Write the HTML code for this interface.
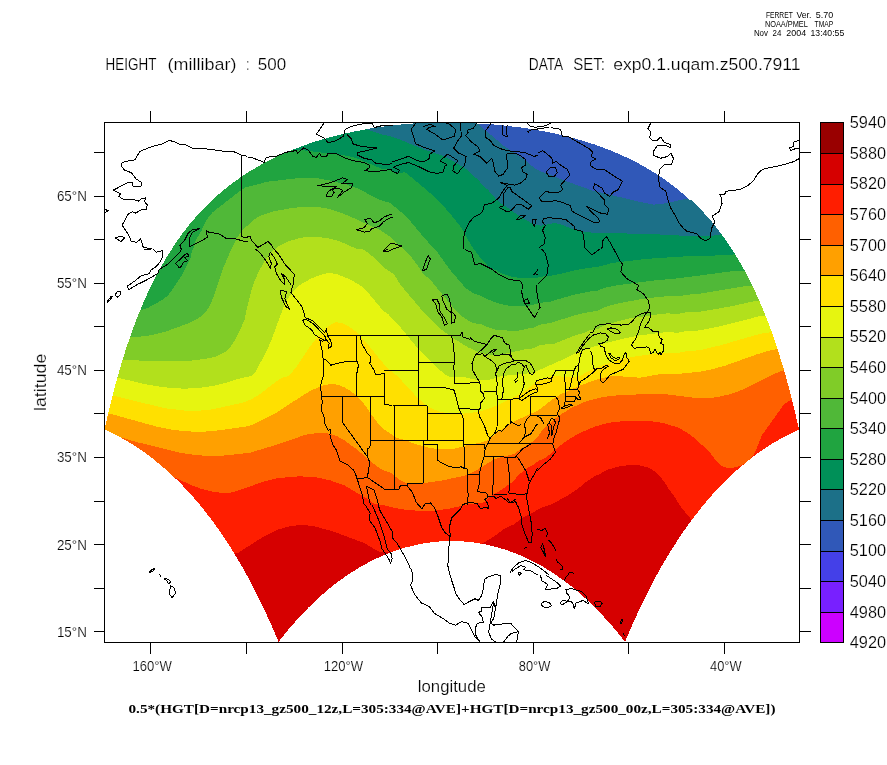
<!DOCTYPE html>
<html><head><meta charset="utf-8"><title>FERRET plot</title>
<style>
html,body{margin:0;padding:0;background:#fff;}
body{width:887px;height:765px;overflow:hidden;}
svg{display:block;}
text{font-family:"Liberation Sans",sans-serif;fill:#000;}
.ser{font-family:"Liberation Serif",serif;font-weight:bold;}
</style></head><body>
<svg width="887" height="765" viewBox="0 0 887 765">
<rect width="887" height="765" fill="#fff"/>
<defs><clipPath id="dr"><path shape-rendering="crispEdges" d="M104.5 429.4 L106.6 420.4 L108.7 411.2 L110.9 402.1 L113.2 392.8 L115.7 383.5 L118.3 374.2 L121.0 364.9 L123.9 355.5 L126.9 346.0 L130.1 336.6 L133.5 327.1 L137.1 317.6 L141.0 308.1 L145.1 298.6 L149.4 289.2 L154.1 279.7 L159.0 270.3 L164.3 260.9 L170.0 251.6 L176.2 242.3 L182.7 233.2 L189.8 224.1 L197.5 215.2 L205.8 206.4 L214.7 197.8 L224.5 189.4 L235.0 181.3 L246.4 173.5 L258.8 166.0 L272.2 158.9 L286.6 152.2 L302.3 146.0 L319.0 140.4 L337.0 135.4 L356.0 131.1 L376.1 127.6 L397.0 124.9 L418.6 123.1 L440.7 122.2 L462.8 122.2 L484.9 123.1 L506.5 124.9 L527.4 127.6 L547.5 131.1 L566.5 135.4 L584.5 140.4 L601.2 146.0 L616.9 152.2 L631.4 158.9 L644.7 166.0 L657.1 173.5 L668.5 181.3 L679.1 189.4 L688.8 197.8 L697.7 206.4 L706.0 215.2 L713.7 224.1 L720.8 233.2 L727.4 242.3 L733.5 251.6 L739.2 260.9 L744.5 270.3 L749.5 279.7 L754.1 289.2 L758.4 298.6 L762.5 308.1 L766.4 317.6 L770.0 327.1 L773.4 336.6 L776.6 346.0 L779.6 355.5 L782.5 364.9 L785.2 374.2 L787.8 383.5 L790.3 392.8 L792.6 402.1 L794.8 411.2 L797.0 420.4 L799.0 429.4 L799.0 429.4 L795.7 430.9 L792.4 432.5 L789.1 434.1 L785.9 435.8 L782.7 437.5 L779.5 439.3 L776.4 441.1 L773.3 443.0 L770.2 444.9 L767.1 446.9 L764.1 448.9 L761.1 451.0 L758.1 453.1 L755.2 455.2 L752.3 457.4 L749.4 459.7 L746.6 461.9 L743.8 464.2 L741.0 466.6 L738.2 469.0 L735.5 471.4 L732.8 473.8 L730.2 476.3 L727.6 478.8 L725.0 481.4 L722.4 483.9 L719.9 486.5 L717.4 489.2 L714.9 491.8 L712.5 494.5 L710.1 497.2 L707.7 500.0 L705.4 502.7 L703.1 505.5 L700.8 508.3 L698.5 511.1 L696.3 514.0 L694.1 516.8 L691.9 519.7 L689.8 522.6 L687.7 525.5 L685.6 528.4 L683.5 531.4 L681.5 534.3 L679.5 537.3 L677.5 540.3 L675.6 543.3 L673.6 546.3 L671.7 549.3 L669.9 552.3 L668.0 555.4 L666.2 558.4 L664.4 561.5 L662.6 564.5 L660.8 567.6 L659.1 570.7 L657.4 573.7 L655.7 576.8 L654.1 579.9 L652.4 583.0 L650.8 586.1 L649.2 589.2 L647.6 592.3 L646.1 595.4 L644.5 598.5 L643.0 601.6 L641.5 604.7 L640.0 607.8 L638.6 610.9 L637.1 614.0 L635.7 617.1 L634.3 620.2 L632.9 623.3 L631.6 626.4 L630.2 629.5 L628.9 632.6 L627.6 635.7 L626.3 638.7 L625.0 641.8 L625.0 641.8 L621.6 637.6 L618.2 633.3 L614.8 629.2 L611.3 625.0 L607.7 621.0 L604.1 617.0 L600.4 613.0 L596.6 609.1 L592.8 605.3 L588.9 601.6 L585.0 597.9 L581.0 594.4 L576.9 590.9 L572.8 587.5 L568.6 584.1 L564.4 580.9 L560.1 577.8 L555.7 574.8 L551.3 571.9 L546.8 569.1 L542.3 566.4 L537.7 563.8 L533.1 561.4 L528.4 559.1 L523.7 556.9 L519.0 554.8 L514.2 552.9 L509.3 551.1 L504.5 549.4 L499.5 547.9 L494.6 546.6 L489.6 545.3 L484.6 544.3 L479.6 543.3 L474.6 542.6 L469.5 542.0 L464.4 541.5 L459.4 541.2 L454.3 541.0 L449.2 541.0 L444.1 541.2 L439.1 541.5 L434.0 542.0 L428.9 542.6 L423.9 543.3 L418.9 544.3 L413.9 545.3 L408.9 546.6 L404.0 547.9 L399.1 549.4 L394.2 551.1 L389.3 552.9 L384.5 554.8 L379.8 556.9 L375.1 559.1 L370.4 561.4 L365.8 563.8 L361.2 566.4 L356.7 569.1 L352.2 571.9 L347.8 574.8 L343.4 577.8 L339.1 580.9 L334.9 584.1 L330.7 587.5 L326.6 590.9 L322.5 594.4 L318.5 597.9 L314.6 601.6 L310.7 605.3 L306.9 609.1 L303.1 613.0 L299.4 617.0 L295.8 621.0 L292.2 625.0 L288.7 629.2 L285.3 633.3 L281.9 637.6 L278.5 641.8 L278.5 641.8 L277.3 638.7 L276.0 635.7 L274.6 632.6 L273.3 629.5 L272.0 626.4 L270.6 623.3 L269.2 620.2 L267.8 617.1 L266.4 614.0 L264.9 610.9 L263.5 607.8 L262.0 604.7 L260.5 601.6 L259.0 598.5 L257.5 595.4 L255.9 592.3 L254.3 589.2 L252.7 586.1 L251.1 583.0 L249.5 579.9 L247.8 576.8 L246.1 573.7 L244.4 570.7 L242.7 567.6 L240.9 564.5 L239.1 561.5 L237.3 558.4 L235.5 555.4 L233.7 552.3 L231.8 549.3 L229.9 546.3 L227.9 543.3 L226.0 540.3 L224.0 537.3 L222.0 534.3 L220.0 531.4 L217.9 528.4 L215.8 525.5 L213.7 522.6 L211.6 519.7 L209.4 516.8 L207.2 514.0 L205.0 511.1 L202.7 508.3 L200.5 505.5 L198.1 502.7 L195.8 500.0 L193.4 497.2 L191.0 494.5 L188.6 491.8 L186.1 489.2 L183.6 486.5 L181.1 483.9 L178.5 481.4 L175.9 478.8 L173.3 476.3 L170.7 473.8 L168.0 471.4 L165.3 469.0 L162.5 466.6 L159.7 464.2 L156.9 461.9 L154.1 459.7 L151.2 457.4 L148.3 455.2 L145.4 453.1 L142.4 451.0 L139.4 448.9 L136.4 446.9 L133.3 444.9 L130.2 443.0 L127.1 441.1 L124.0 439.3 L120.8 437.5 L117.6 435.8 L114.4 434.1 L111.1 432.5 L107.8 430.9 L104.5 429.4Z"/></clipPath><clipPath id="fr"><rect x="104.5" y="122.4" width="695.0" height="520.1"/></clipPath></defs>
<g clip-path="url(#fr)"><g shape-rendering="crispEdges">
<path d="M105.5 429.0 117.9 435.1 117.9 435.1 130.5 442.2 130.5 442.3 142.6 450.2 142.7 450.2 148.5 454.4 148.5 454.4 155.7 459.9 155.7 459.9 168.1 470.4 168.2 470.5 180.0 481.6 180.0 481.7 191.1 493.4 191.2 493.5 201.7 505.8 201.7 505.8 212.8 519.9 212.8 520.0 223.1 534.5 223.1 534.5 232.8 549.4 232.8 549.5 242.7 566.1 242.8 566.1 252.0 583.0 252.0 583.0 261.3 601.5 261.4 601.5 270.7 621.5 270.7 621.6 278.7 640.3 288.0 628.7 288.0 628.7 296.9 618.6 296.9 618.6 308.0 606.9 308.0 606.9 317.7 597.6 317.7 597.6 327.8 588.8 327.8 588.8 338.2 580.6 338.3 580.6 349.0 573.0 349.1 573.0 360.2 566.1 360.2 566.0 371.6 559.8 371.7 559.8 383.4 554.4 383.5 554.4 395.5 549.8 395.5 549.8 405.2 546.7 405.3 546.7 417.7 543.7 417.7 543.7 427.7 541.9 427.7 541.9 440.3 540.6 440.4 540.6 450.5 540.2 450.5 540.2 460.6 540.4 460.7 540.4 473.2 541.6 473.3 541.6 485.8 543.7 485.9 543.7 498.2 546.7 498.3 546.7 508.0 549.8 508.1 549.8 520.0 554.4 520.1 554.4 531.8 559.8 531.9 559.8 543.3 566.0 543.3 566.1 554.4 573.0 554.5 573.0 565.3 580.6 565.3 580.6 575.7 588.8 575.7 588.8 585.8 597.6 585.8 597.6 595.5 606.9 595.5 606.9 606.6 618.6 606.6 618.6 615.5 628.7 615.5 628.7 624.8 640.3 632.8 621.6 632.8 621.5 642.2 601.5 642.2 601.5 651.5 583.0 651.5 583.0 660.7 566.1 660.8 566.1 670.7 549.5 670.7 549.4 680.4 534.5 680.4 534.5 690.7 520.0 690.7 519.9 701.8 505.8 701.8 505.8 712.3 493.5 712.4 493.4 723.5 481.7 723.6 481.6 735.3 470.5 735.4 470.4 747.8 459.9 747.8 459.9 755.0 454.4 755.0 454.4 760.8 450.2 760.9 450.2 773.0 442.3 773.0 442.2 785.6 435.1 785.6 435.1 798.1 429.0 793.0 407.0 788.4 388.7 783.2 370.2 777.5 351.5 771.2 332.7 765.9 318.6 758.1 299.8 751.5 285.7 744.3 271.7 736.4 257.7 727.5 243.9 721.0 234.8 714.1 225.8 710.4 221.4 702.6 212.6 694.1 204.0 685.0 195.5 675.1 187.3 664.4 179.4 652.8 171.7 640.3 164.4 626.7 157.5 612.0 151.0 596.1 145.0 587.8 142.3 570.2 137.2 551.6 132.8 531.9 129.1 521.7 127.6 500.7 125.1 490.0 124.2 468.2 123.1 457.3 122.9 446.3 122.9 424.3 123.5 402.8 125.1 381.8 127.6 371.6 129.1 351.9 132.8 333.3 137.2 315.7 142.3 307.4 145.0 291.5 151.0 276.8 157.5 263.2 164.4 250.7 171.7 239.1 179.4 228.4 187.3 218.5 195.5 209.4 204.0 200.9 212.6 193.1 221.4 189.5 225.8 182.5 234.8 176.0 243.9 167.2 257.7 159.2 271.7 152.0 285.7 145.4 299.8 137.6 318.6 132.3 332.7 126.0 351.5 120.3 370.2 115.1 388.7 110.5 407.0Z" fill="#3058b8"/>
<path fill-rule="evenodd" d="M686.0 198.8 662.1 204.0 654.0 204.6 642.0 202.4 592.0 190.4 568.0 181.9 538.0 170.2 534.5 168.0 524.8 160.0 504.1 146.0 476.4 122.7 468.3 122.3 457.3 122.1 446.2 122.1 424.3 122.7 402.7 124.3 381.7 126.8 371.5 128.3 351.8 132.0 333.1 136.4 315.5 141.5 307.1 144.3 291.2 150.3 276.5 156.8 262.9 163.7 250.2 171.0 238.6 178.7 227.9 186.7 218.0 194.9 208.8 203.4 200.3 212.1 192.5 220.9 188.8 225.3 181.8 234.4 175.4 243.5 166.5 257.3 158.5 271.3 151.2 285.4 144.7 299.5 136.9 318.3 131.6 332.5 125.2 351.3 119.5 369.9 114.4 388.5 109.7 406.8 104.5 429.4 117.5 435.8 130.1 442.9 142.2 450.8 148.1 455.0 155.2 460.6 167.6 471.0 179.4 482.2 190.6 494.0 201.1 506.3 212.1 520.4 222.5 535.0 232.1 549.9 242.1 566.5 251.3 583.4 260.6 601.8 270.0 621.9 278.5 641.8 288.7 629.2 297.5 619.1 308.6 607.4 318.3 598.2 328.3 589.4 338.7 581.2 349.5 573.7 360.6 566.7 372.0 560.6 383.8 555.1 395.7 550.5 405.5 547.5 417.8 544.5 427.8 542.7 440.4 541.4 450.5 541.0 460.6 541.2 473.2 542.4 485.7 544.5 498.0 547.5 507.8 550.5 519.8 555.1 531.5 560.6 542.9 566.7 554.0 573.7 564.8 581.2 575.2 589.4 585.2 598.2 594.9 607.4 606.0 619.1 614.9 629.2 625.0 641.8 633.6 621.9 642.9 601.8 652.2 583.4 661.4 566.5 671.4 549.9 681.0 535.0 691.4 520.4 702.4 506.3 712.9 494.0 724.1 482.2 735.9 471.0 748.3 460.6 755.4 455.0 761.3 450.8 773.4 442.9 786.0 435.8 799.0 429.4 793.8 406.8 789.1 388.5 784.0 369.9 778.3 351.3 771.9 332.5 766.6 318.3 758.8 299.5 752.3 285.4 745.0 271.3 737.0 257.3 728.1 243.5 721.7 234.4 714.7 225.3 711.0 220.9 703.2 212.1 694.7 203.4 691.1 200.1Z" fill="#1c7088"/>
<path fill-rule="evenodd" d="M710.0 236.1 700.0 235.7 690.0 236.1 654.0 234.2 592.0 232.6 582.0 231.6 576.0 230.4 562.0 224.9 556.0 223.3 552.0 223.5 542.0 225.6 538.0 225.4 532.0 223.3 524.0 219.1 499.3 202.0 496.0 199.2 488.2 190.0 483.6 186.0 478.2 180.0 466.0 168.9 450.0 159.4 440.0 154.7 424.0 149.5 398.0 138.8 390.0 136.3 380.0 134.0 366.5 129.3 351.8 132.0 333.1 136.4 315.5 141.5 307.1 144.3 291.2 150.3 276.5 156.8 262.9 163.7 250.2 171.0 238.6 178.7 227.9 186.7 218.0 194.9 208.8 203.4 200.3 212.1 192.5 220.9 188.8 225.3 181.8 234.4 175.4 243.5 166.5 257.3 158.5 271.3 151.2 285.4 144.7 299.5 136.9 318.3 131.6 332.5 125.2 351.3 119.5 369.9 114.4 388.5 109.7 406.8 104.5 429.4 117.5 435.8 130.1 442.9 142.2 450.8 148.1 455.0 155.2 460.6 167.6 471.0 179.4 482.2 190.6 494.0 201.1 506.3 212.1 520.4 222.5 535.0 232.1 549.9 242.1 566.5 251.3 583.4 260.6 601.8 270.0 621.9 278.5 641.8 288.7 629.2 297.5 619.1 308.6 607.4 318.3 598.2 328.3 589.4 338.7 581.2 349.5 573.7 360.6 566.7 372.0 560.6 383.8 555.1 395.7 550.5 405.5 547.5 417.8 544.5 427.8 542.7 440.4 541.4 450.5 541.0 460.6 541.2 473.2 542.4 485.7 544.5 498.0 547.5 507.8 550.5 519.8 555.1 531.5 560.6 542.9 566.7 554.0 573.7 564.8 581.2 575.2 589.4 585.2 598.2 594.9 607.4 606.0 619.1 614.9 629.2 625.0 641.8 633.6 621.9 642.9 601.8 652.2 583.4 661.4 566.5 671.4 549.9 681.0 535.0 691.4 520.4 702.4 506.3 712.9 494.0 724.1 482.2 735.9 471.0 748.3 460.6 755.4 455.0 761.3 450.8 773.4 442.9 786.0 435.8 799.0 429.4 793.8 406.8 789.1 388.5 784.0 369.9 778.3 351.3 771.9 332.5 766.6 318.3 758.8 299.5 752.3 285.4 745.0 271.3 737.0 257.3 728.1 243.5 721.7 234.4 721.6 234.3Z" fill="#009058"/>
<path fill-rule="evenodd" d="M706.0 256.0 686.0 255.9 678.0 257.3 662.0 257.6 642.0 259.4 612.0 263.0 600.0 266.4 580.0 269.2 554.0 275.3 540.0 276.9 536.0 278.1 520.0 277.9 514.0 277.1 510.0 276.3 500.0 272.6 496.0 270.1 490.0 267.8 488.0 266.3 486.5 264.0 480.0 257.3 474.4 250.0 468.0 240.1 465.2 234.0 460.0 226.0 448.0 211.1 438.0 200.5 428.0 191.1 406.0 172.9 404.0 172.3 396.0 173.5 390.0 170.0 382.0 168.8 356.0 158.0 346.0 155.6 298.0 149.6 293.3 149.5 291.2 150.3 276.5 156.8 262.9 163.7 250.2 171.0 238.6 178.7 227.9 186.7 218.0 194.9 208.8 203.4 200.3 212.1 192.5 220.9 188.8 225.3 181.8 234.4 175.4 243.5 166.5 257.3 158.5 271.3 151.2 285.4 144.7 299.5 136.9 318.3 131.6 332.5 125.2 351.3 119.5 369.9 114.4 388.5 109.7 406.8 104.5 429.4 117.5 435.8 130.1 442.9 142.2 450.8 148.1 455.0 155.2 460.6 167.6 471.0 179.4 482.2 190.6 494.0 201.1 506.3 212.1 520.4 222.5 535.0 232.1 549.9 242.1 566.5 251.3 583.4 260.6 601.8 270.0 621.9 278.5 641.8 288.7 629.2 297.5 619.1 308.6 607.4 318.3 598.2 328.3 589.4 338.7 581.2 349.5 573.7 360.6 566.7 372.0 560.6 383.8 555.1 395.7 550.5 405.5 547.5 417.8 544.5 427.8 542.7 440.4 541.4 450.5 541.0 460.6 541.2 473.2 542.4 485.7 544.5 498.0 547.5 507.8 550.5 519.8 555.1 531.5 560.6 542.9 566.7 554.0 573.7 564.8 581.2 575.2 589.4 585.2 598.2 594.9 607.4 606.0 619.1 614.9 629.2 625.0 641.8 633.6 621.9 642.9 601.8 652.2 583.4 661.4 566.5 671.4 549.9 681.0 535.0 691.4 520.4 702.4 506.3 712.9 494.0 724.1 482.2 735.9 471.0 748.3 460.6 755.4 455.0 761.3 450.8 773.4 442.9 786.0 435.8 799.0 429.4 793.8 406.8 789.1 388.5 784.0 369.9 778.3 351.3 771.9 332.5 766.6 318.3 758.8 299.5 752.3 285.4 745.0 271.3 737.0 257.3 735.2 254.4Z" fill="#20a440"/>
<path fill-rule="evenodd" d="M268.0 181.6 246.0 187.2 242.0 189.4 212.9 212.0 206.5 220.0 201.8 230.0 195.9 240.0 194.0 246.6 192.0 250.6 190.6 258.0 182.6 274.0 170.8 292.0 167.3 296.0 162.0 300.0 148.0 307.9 142.0 309.7 140.4 309.8 136.9 318.3 131.6 332.5 125.2 351.3 119.5 369.9 114.4 388.5 109.7 406.8 104.5 429.4 117.5 435.8 130.1 442.9 142.2 450.8 148.1 455.0 155.2 460.6 167.6 471.0 179.4 482.2 190.6 494.0 201.1 506.3 212.1 520.4 222.5 535.0 232.1 549.9 242.1 566.5 251.3 583.4 260.6 601.8 270.0 621.9 278.5 641.8 288.7 629.2 297.5 619.1 308.6 607.4 318.3 598.2 328.3 589.4 338.7 581.2 349.5 573.7 360.6 566.7 372.0 560.6 383.8 555.1 395.7 550.5 405.5 547.5 417.8 544.5 427.8 542.7 440.4 541.4 450.5 541.0 460.6 541.2 473.2 542.4 485.7 544.5 498.0 547.5 507.8 550.5 519.8 555.1 531.5 560.6 542.9 566.7 554.0 573.7 564.8 581.2 575.2 589.4 585.2 598.2 594.9 607.4 606.0 619.1 614.9 629.2 625.0 641.8 633.6 621.9 642.9 601.8 652.2 583.4 661.4 566.5 671.4 549.9 681.0 535.0 691.4 520.4 702.4 506.3 712.9 494.0 724.1 482.2 735.9 471.0 748.3 460.6 755.4 455.0 761.3 450.8 773.4 442.9 786.0 435.8 799.0 429.4 793.8 406.8 789.1 388.5 784.0 369.9 778.3 351.3 771.9 332.5 766.6 318.3 758.8 299.5 752.3 285.4 745.0 271.3 744.7 270.8 730.0 271.5 680.0 278.1 650.0 280.9 616.0 285.5 604.0 288.0 596.0 291.2 588.0 291.6 582.0 293.2 574.0 294.6 550.0 301.7 542.0 302.6 528.0 305.9 512.0 306.4 500.0 304.0 488.0 299.5 480.0 295.3 474.0 293.7 468.0 289.9 463.8 286.0 450.1 270.0 436.0 250.3 426.1 240.0 406.0 216.1 390.0 202.9 378.0 199.3 360.0 189.4 346.0 184.3 330.0 180.5 318.0 178.4 310.0 177.8 299.7 178.0Z" fill="#50b838"/>
<path fill-rule="evenodd" d="M274.0 211.3 260.0 216.0 253.1 220.0 249.4 224.0 244.0 228.4 236.7 238.0 229.2 254.0 222.4 270.0 213.8 296.0 210.0 305.2 205.7 312.0 202.0 315.7 198.0 318.6 190.0 322.6 168.0 330.8 156.0 334.2 146.0 336.1 134.0 337.1 130.0 337.1 125.2 351.3 119.5 369.9 114.4 388.5 109.7 406.8 104.5 429.4 117.5 435.8 130.1 442.9 142.2 450.8 148.1 455.0 155.2 460.6 167.6 471.0 179.4 482.2 190.6 494.0 201.1 506.3 212.1 520.4 222.5 535.0 232.1 549.9 242.1 566.5 251.3 583.4 260.6 601.8 270.0 621.9 278.5 641.8 288.7 629.2 297.5 619.1 308.6 607.4 318.3 598.2 328.3 589.4 338.7 581.2 349.5 573.7 360.6 566.7 372.0 560.6 383.8 555.1 395.7 550.5 405.5 547.5 417.8 544.5 427.8 542.7 440.4 541.4 450.5 541.0 460.6 541.2 473.2 542.4 485.7 544.5 498.0 547.5 507.8 550.5 519.8 555.1 531.5 560.6 542.9 566.7 554.0 573.7 564.8 581.2 575.2 589.4 585.2 598.2 594.9 607.4 606.0 619.1 614.9 629.2 625.0 641.8 633.6 621.9 642.9 601.8 652.2 583.4 661.4 566.5 671.4 549.9 681.0 535.0 691.4 520.4 702.4 506.3 712.9 494.0 724.1 482.2 735.9 471.0 748.3 460.6 755.4 455.0 761.3 450.8 773.4 442.9 786.0 435.8 799.0 429.4 793.8 406.8 789.1 388.5 784.0 369.9 778.3 351.3 771.9 332.5 766.6 318.3 758.8 299.5 752.3 285.5 744.0 286.4 700.0 293.6 686.0 294.9 680.0 296.0 668.0 296.1 658.0 297.0 642.0 299.0 622.0 302.6 608.0 306.0 602.6 308.0 598.0 310.6 586.0 312.6 574.0 315.6 550.0 323.0 540.0 324.7 534.0 327.5 526.0 328.9 522.0 330.3 514.0 330.9 502.0 330.2 498.0 330.5 486.0 326.6 480.0 323.5 476.0 323.5 472.0 322.4 466.0 319.2 462.0 316.2 453.7 308.0 432.0 281.9 422.0 272.1 418.0 265.8 409.0 254.0 389.0 236.0 380.3 230.0 346.0 214.7 330.0 209.2 322.0 207.6 312.0 206.8 302.0 207.0 291.5 208.0Z" fill="#80cc28"/>
<path fill-rule="evenodd" d="M288.0 241.4 278.9 246.0 272.0 251.3 266.0 258.9 259.5 270.0 254.0 282.3 250.9 292.0 246.4 310.0 244.5 320.0 239.2 332.0 235.1 340.0 231.0 346.0 226.0 351.2 222.0 353.8 216.0 356.5 208.0 358.4 192.0 360.5 180.0 361.1 154.0 361.0 124.0 360.0 122.6 359.7 119.5 369.9 114.4 388.5 109.7 406.8 104.5 429.4 117.5 435.8 130.1 442.9 142.2 450.8 148.1 455.0 155.2 460.6 167.6 471.0 179.4 482.2 190.6 494.0 201.1 506.3 212.1 520.4 222.5 535.0 232.1 549.9 242.1 566.5 251.3 583.4 260.6 601.8 270.0 621.9 278.5 641.8 288.7 629.2 297.5 619.1 308.6 607.4 318.3 598.2 328.3 589.4 338.7 581.2 349.5 573.7 360.6 566.7 372.0 560.6 383.8 555.1 395.7 550.5 405.5 547.5 417.8 544.5 427.8 542.7 440.4 541.4 450.5 541.0 460.6 541.2 473.2 542.4 485.7 544.5 498.0 547.5 507.8 550.5 519.8 555.1 531.5 560.6 542.9 566.7 554.0 573.7 564.8 581.2 575.2 589.4 585.2 598.2 594.9 607.4 606.0 619.1 614.9 629.2 625.0 641.8 633.6 621.9 642.9 601.8 652.2 583.4 661.4 566.5 671.4 549.9 681.0 535.0 691.4 520.4 702.4 506.3 712.9 494.0 724.1 482.2 735.9 471.0 748.3 460.6 755.4 455.0 761.3 450.8 773.4 442.9 786.0 435.8 799.0 429.4 793.8 406.8 789.1 388.5 784.0 369.9 778.3 351.3 771.9 332.5 766.6 318.3 759.3 300.6 750.0 302.0 732.0 306.2 700.0 311.7 694.0 312.3 686.0 312.3 678.0 314.0 668.0 313.4 662.0 313.8 628.0 318.6 608.3 324.0 602.8 326.0 598.0 328.8 588.0 330.8 584.0 332.8 572.0 336.5 554.0 343.8 542.0 344.7 540.0 345.1 534.0 348.2 524.0 349.5 502.0 354.4 496.0 355.0 490.0 354.8 480.0 352.6 468.0 347.4 452.0 337.4 440.0 328.4 420.0 308.0 399.8 284.0 394.0 274.1 386.0 269.1 374.0 257.6 366.0 251.1 362.0 249.1 356.0 248.5 340.0 241.4 328.0 238.1 314.0 236.8 306.0 237.1 299.7 238.0Z" fill="#b2e01c"/>
<path fill-rule="evenodd" d="M312.3 278.0 302.0 283.5 296.0 288.2 290.0 295.1 286.0 301.8 283.2 308.0 271.4 340.0 267.2 350.0 256.0 370.9 254.0 374.0 251.6 376.0 240.0 378.4 226.0 382.8 212.0 386.1 198.0 388.1 184.0 388.7 170.0 387.9 156.0 386.1 144.0 383.9 118.0 377.8 117.4 377.7 114.4 388.5 109.7 406.8 104.5 429.4 117.5 435.8 130.1 442.9 142.2 450.8 148.1 455.0 155.2 460.6 167.6 471.0 179.4 482.2 190.6 494.0 201.1 506.3 212.1 520.4 222.5 535.0 232.1 549.9 242.1 566.5 251.3 583.4 260.6 601.8 270.0 621.9 278.5 641.8 288.7 629.2 297.5 619.1 308.6 607.4 318.3 598.2 328.3 589.4 338.7 581.2 349.5 573.7 360.6 566.7 372.0 560.6 383.8 555.1 395.7 550.5 405.5 547.5 417.8 544.5 427.8 542.7 440.4 541.4 450.5 541.0 460.6 541.2 473.2 542.4 485.7 544.5 498.0 547.5 507.8 550.5 519.8 555.1 531.5 560.6 542.9 566.7 554.0 573.7 564.8 581.2 575.2 589.4 585.2 598.2 594.9 607.4 606.0 619.1 614.9 629.2 625.0 641.8 633.6 621.9 642.9 601.8 652.2 583.4 661.4 566.5 671.4 549.9 681.0 535.0 691.4 520.4 702.4 506.3 712.9 494.0 724.1 482.2 735.9 471.0 748.3 460.6 755.4 455.0 761.3 450.8 773.4 442.9 786.0 435.8 799.0 429.4 793.8 406.8 789.1 388.5 784.0 369.9 778.3 351.3 771.9 332.5 766.6 318.3 765.5 315.5 760.0 316.1 722.0 325.8 700.0 330.3 694.0 331.0 686.0 331.0 678.0 332.8 670.0 332.2 664.0 332.4 640.0 335.4 624.0 338.4 602.0 344.1 588.0 348.5 574.0 353.9 568.0 357.2 534.0 372.4 526.0 373.7 502.0 376.0 490.0 379.6 480.0 380.2 474.0 379.4 462.0 376.6 452.0 377.4 450.0 377.0 446.0 374.9 436.0 367.0 420.0 351.0 398.0 324.4 392.0 318.6 388.3 314.0 384.0 311.3 382.0 309.3 369.1 294.0 361.1 286.0 351.5 280.0 338.0 274.5 330.0 272.9 323.0 274.0Z" fill="#e6f510"/>
<path fill-rule="evenodd" d="M324.0 330.0 316.0 338.7 310.0 346.6 297.1 366.0 290.0 374.7 288.0 376.2 284.0 377.1 278.0 380.2 258.0 395.5 252.0 398.9 244.0 402.4 210.0 409.8 198.0 410.7 184.0 410.5 164.0 408.1 116.0 396.2 112.6 395.6 109.7 406.8 104.5 429.4 117.5 435.8 130.1 442.9 142.2 450.8 148.1 455.0 155.2 460.6 167.6 471.0 179.4 482.2 190.6 494.0 201.1 506.3 212.1 520.4 222.5 535.0 232.1 549.9 242.1 566.5 251.3 583.4 260.6 601.8 270.0 621.9 278.5 641.8 288.7 629.2 297.5 619.1 308.6 607.4 318.3 598.2 328.3 589.4 338.7 581.2 349.5 573.7 360.6 566.7 372.0 560.6 383.8 555.1 395.7 550.5 405.5 547.5 417.8 544.5 427.8 542.7 440.4 541.4 450.5 541.0 460.6 541.2 473.2 542.4 485.7 544.5 498.0 547.5 507.8 550.5 519.8 555.1 531.5 560.6 542.9 566.7 554.0 573.7 564.8 581.2 575.2 589.4 585.2 598.2 594.9 607.4 606.0 619.1 614.9 629.2 625.0 641.8 633.6 621.9 642.9 601.8 652.2 583.4 661.4 566.5 671.4 549.9 681.0 535.0 691.4 520.4 702.4 506.3 712.9 494.0 724.1 482.2 735.9 471.0 748.3 460.6 755.4 455.0 761.3 450.8 773.4 442.9 786.0 435.8 799.0 429.4 793.8 406.8 789.1 388.5 784.0 369.9 778.3 351.3 771.9 332.5 771.8 332.1 760.0 333.8 720.0 345.4 700.0 350.1 686.0 351.4 678.0 353.0 666.0 352.6 658.0 353.2 638.0 356.0 622.0 359.1 604.0 364.6 592.0 369.5 579.8 376.0 576.0 377.3 570.0 377.3 556.0 376.1 550.0 376.6 540.0 380.1 533.9 384.0 522.0 392.9 504.0 402.2 494.0 406.7 486.0 409.7 478.0 411.8 468.0 413.3 458.0 413.8 448.0 413.3 440.0 411.7 432.0 408.6 426.0 405.0 417.7 398.0 398.0 376.7 386.0 366.7 366.0 342.2 356.0 331.8 348.0 325.9 342.0 323.0 336.0 322.3 331.5 324.0Z" fill="#ffe000"/>
<path fill-rule="evenodd" d="M770.0 350.4 757.9 354.0 726.0 365.4 712.0 369.3 700.0 371.7 680.0 373.7 662.0 373.8 640.0 377.7 616.0 376.0 610.0 376.4 602.0 378.1 592.0 381.1 579.1 386.0 561.2 394.0 554.0 398.3 538.0 410.5 517.0 420.0 509.7 424.0 498.0 432.0 488.0 440.1 480.0 442.7 470.0 444.6 454.0 448.7 450.0 449.3 442.0 449.3 430.0 448.1 424.0 446.1 416.0 444.4 408.0 441.2 396.0 437.5 386.0 430.8 380.0 425.7 374.0 418.2 364.1 404.0 356.0 395.4 350.0 390.7 344.0 387.2 338.0 384.8 334.0 384.1 330.0 384.1 324.0 385.1 312.0 390.0 304.9 394.0 276.0 413.0 252.0 425.1 246.0 426.6 218.0 430.4 206.0 431.5 194.0 431.7 184.0 431.1 172.0 429.6 158.0 427.0 112.0 414.2 108.2 413.6 104.5 429.4 117.5 435.8 130.1 442.9 142.2 450.8 148.1 455.0 155.2 460.6 167.6 471.0 179.4 482.2 190.6 494.0 201.1 506.3 212.1 520.4 222.5 535.0 232.1 549.9 242.1 566.5 251.3 583.4 260.6 601.8 270.0 621.9 278.5 641.8 288.7 629.2 297.5 619.1 308.6 607.4 318.3 598.2 328.3 589.4 338.7 581.2 349.5 573.7 360.6 566.7 372.0 560.6 383.8 555.1 395.7 550.5 405.5 547.5 417.8 544.5 427.8 542.7 440.4 541.4 450.5 541.0 460.6 541.2 473.2 542.4 485.7 544.5 498.0 547.5 507.8 550.5 519.8 555.1 531.5 560.6 542.9 566.7 554.0 573.7 564.8 581.2 575.2 589.4 585.2 598.2 594.9 607.4 606.0 619.1 614.9 629.2 625.0 641.8 633.6 621.9 642.9 601.8 652.2 583.4 661.4 566.5 671.4 549.9 681.0 535.0 691.4 520.4 702.4 506.3 712.9 494.0 724.1 482.2 735.9 471.0 748.3 460.6 755.4 455.0 761.3 450.8 773.4 442.9 786.0 435.8 799.0 429.4 793.8 406.8 789.1 388.5 784.0 369.9 778.3 351.3 777.6 349.1Z" fill="#ffa000"/>
<path fill-rule="evenodd" d="M784.0 370.0 772.0 374.8 746.0 388.1 738.0 391.6 728.0 394.7 716.0 397.3 708.0 398.3 698.0 398.3 666.0 394.2 648.0 393.9 612.0 395.7 600.0 397.7 586.0 401.4 571.1 408.0 558.0 416.3 546.3 426.0 542.5 430.0 538.0 436.6 534.6 440.0 532.3 442.0 522.0 448.0 514.0 454.0 500.0 457.4 494.0 459.5 473.6 472.0 464.0 475.9 440.0 480.9 420.0 483.6 408.0 483.6 400.0 480.2 390.0 472.3 384.0 470.7 376.0 465.7 356.0 448.8 344.0 440.0 336.0 435.7 328.0 433.4 318.0 432.9 306.0 434.6 280.0 443.6 250.0 452.8 226.0 455.4 212.0 456.1 196.0 455.2 180.0 452.7 138.0 442.4 120.1 437.2 130.1 442.9 142.2 450.8 148.1 455.0 155.2 460.6 167.6 471.0 179.4 482.2 190.6 494.0 201.1 506.3 212.1 520.4 222.5 535.0 232.1 549.9 242.1 566.5 251.3 583.4 260.6 601.8 270.0 621.9 278.5 641.8 288.7 629.2 297.5 619.1 308.6 607.4 318.3 598.2 328.3 589.4 338.7 581.2 349.5 573.7 360.6 566.7 372.0 560.6 383.8 555.1 395.7 550.5 405.5 547.5 417.8 544.5 427.8 542.7 440.4 541.4 450.5 541.0 460.6 541.2 473.2 542.4 485.7 544.5 498.0 547.5 507.8 550.5 519.8 555.1 531.5 560.6 542.9 566.7 554.0 573.7 564.8 581.2 575.2 589.4 585.2 598.2 594.9 607.4 606.0 619.1 614.9 629.2 625.0 641.8 633.6 621.9 642.9 601.8 652.2 583.4 661.4 566.5 671.4 549.9 681.0 535.0 691.4 520.4 702.4 506.3 712.9 494.0 724.1 482.2 735.9 471.0 748.3 460.6 755.4 455.0 761.3 450.8 773.4 442.9 786.0 435.8 799.0 429.4 793.8 406.8 789.1 388.5 784.0 370.0Z" fill="#ff6000"/>
<path fill-rule="evenodd" d="M790.0 400.5 786.0 402.9 782.8 406.0 762.0 435.2 756.1 450.0 752.7 456.0 750.1 459.2 755.4 455.0 761.3 450.8 773.4 442.9 786.0 435.8 799.0 429.4 793.8 406.8 792.0 399.9ZM742.0 465.2 738.0 466.7 732.0 467.9 728.0 468.1 721.8 466.0 716.0 460.8 709.5 452.0 694.5 438.0 688.0 433.2 678.0 427.5 664.0 423.2 650.0 421.0 632.0 420.5 614.0 422.0 603.8 424.0 594.0 426.9 580.0 433.0 570.0 438.5 560.0 445.7 546.0 457.5 544.0 458.8 540.0 460.0 536.7 462.0 534.0 464.6 528.0 467.5 519.8 474.0 512.2 482.0 501.2 490.0 490.8 496.0 484.0 502.2 480.0 503.4 470.0 504.0 450.0 508.5 436.0 510.5 422.0 511.0 410.0 510.2 400.0 509.0 382.0 504.9 374.3 504.0 369.1 500.0 344.0 485.1 330.0 480.3 318.0 477.6 308.0 476.6 298.0 476.4 278.7 478.0 266.0 480.9 234.0 491.9 228.0 493.0 222.0 493.0 212.0 491.5 200.0 488.4 190.0 484.6 175.9 478.0 174.5 477.6 179.4 482.2 190.6 494.0 201.1 506.3 212.1 520.4 222.5 535.0 232.1 549.9 242.1 566.5 251.3 583.4 260.6 601.8 270.0 621.9 278.5 641.8 288.7 629.2 297.5 619.1 308.6 607.4 318.3 598.2 328.3 589.4 338.7 581.2 349.5 573.7 360.6 566.7 372.0 560.6 383.8 555.1 395.7 550.5 405.5 547.5 417.8 544.5 427.8 542.7 440.4 541.4 450.5 541.0 460.6 541.2 473.2 542.4 485.7 544.5 498.0 547.5 507.8 550.5 519.8 555.1 531.5 560.6 542.9 566.7 554.0 573.7 564.8 581.2 575.2 589.4 585.2 598.2 594.9 607.4 606.0 619.1 614.9 629.2 625.0 641.8 633.6 621.9 642.9 601.8 652.2 583.4 661.4 566.5 671.4 549.9 681.0 535.0 691.4 520.4 702.4 506.3 712.9 494.0 724.1 482.2 735.9 471.0 745.0 463.3Z" fill="#ff1e00"/>
<path fill-rule="evenodd" d="M606.6 470.0 600.0 474.0 594.0 476.5 584.0 483.4 578.9 488.0 566.0 496.5 552.1 504.0 542.0 507.5 522.4 518.0 514.0 524.3 504.0 529.1 492.0 537.8 482.0 543.7 481.7 543.8 485.7 544.5 498.0 547.5 507.8 550.5 519.8 555.1 531.5 560.6 542.9 566.7 554.0 573.7 564.8 581.2 575.2 589.4 585.2 598.2 594.9 607.4 606.0 619.1 614.9 629.2 625.0 641.8 633.6 621.9 642.9 601.8 652.2 583.4 661.4 566.5 671.4 549.9 681.0 535.0 691.4 520.4 691.7 520.0 681.7 508.0 672.7 494.0 668.0 488.1 664.5 482.0 657.9 474.0 654.0 470.8 648.0 467.5 640.0 465.4 632.0 464.9 620.6 466.0ZM388.0 552.4 382.0 552.5 376.0 550.1 364.0 543.0 332.0 531.0 314.0 526.3 306.0 525.2 300.0 525.1 290.0 526.1 278.0 529.6 261.4 538.0 238.0 552.9 234.4 553.7 242.1 566.5 251.3 583.4 260.6 601.8 270.0 621.9 278.5 641.8 288.7 629.2 297.5 619.1 308.6 607.4 318.3 598.2 328.3 589.4 338.7 581.2 349.5 573.7 360.6 566.7 372.0 560.6 383.8 555.1 394.6 551.0Z" fill="#d60000"/>
</g>
<g fill="none" stroke="#000" stroke-width="1" stroke-linejoin="round" shape-rendering="crispEdges">
<path d="M247.5 156.2 241.8 155.2 234.2 151.9 225.7 151.4 218.9 150.6 208.7 149.2 198.5 148.0 191.7 148.0 186.6 145.1 179.8 144.3 174.7 141.7 168.8 140.4 162.9 143.8 154.4 145.8 145.9 148.9 139.9 151.4 134.8 159.9 127.2 161.1 122.1 162.5 121.2 165.9 124.6 170.1 131.4 172.7 135.7 178.6 142.1 182.9 140.8 186.3 133.1 186.3 132.3 182.9 128.0 182.5 113.6 190.0 120.4 193.9 118.7 196.4 123.8 199.5 134.0 199.8 138.2 201.2 141.6 198.5 145.9 197.8 144.5 201.5 147.2 204.9 146.2 209.2 141.6 209.7 135.7 213.1 132.3 211.7 128.0 214.3 122.1 225.3 128.0 233.8 131.4 241.5 136.5 242.3 140.8 238.9 143.3 247.4 149.3 248.3 151.5 249.0M241.8 155.2 241.8 236.9 246.1 237.2 247.5 237.7M247.5 241.9 242.7 241.0 235.9 238.9 225.7 238.1 218.9 233.8 208.7 232.1 206.2 230.4 207.4 237.2 201.9 240.6 195.1 244.0 190.0 246.6 189.2 238.9 192.6 232.1 199.4 228.7 192.6 229.6 188.3 233.0 184.9 239.8 179.8 245.7 181.2 249.0M115.3 238.1 121.2 236.0 124.6 238.1 121.2 241.5 115.3 238.1M104.8 209.2 108.5 210.9 105.1 212.6M143.8 249.0 144.2 249.7 151.2 249.0M152.8 249.0 156.1 252.2 162.9 250.5 162.9 256.5 160.3 261.6 156.1 266.7 151.0 270.1 149.3 273.5 140.8 276.0 135.7 280.3 127.2 286.2 128.9 289.6 137.4 284.5 145.9 280.3 157.8 273.5 159.5 269.2 168.0 264.1 174.7 257.3 179.8 252.2 181.7 249.0M175.6 263.3 181.5 258.2 184.9 254.8 187.5 253.1 188.7 256.2 184.9 257.3 187.5 260.7 183.2 262.4 181.5 266.7 179.0 267.5 175.6 263.3M106.8 302.4 111.0 296.4 112.7 296.4 109.3 300.7 106.8 302.4M115.3 294.7 117.0 291.8 120.4 291.3 120.7 294.7 117.0 297.3 115.3 294.7M247.5 156.8 253.5 158.2 264.5 162.5 265.4 158.2 270.5 156.5 275.6 156.5 285.8 152.3 296.0 150.6 297.7 153.1 303.6 148.0 307.9 149.7 313.0 156.5 316.3 157.4 319.7 153.1 321.4 157.0 326.5 156.5 328.2 153.1 336.7 154.0 345.2 158.2 353.7 160.8 363.9 162.5 369.0 165.0 369.9 167.6 364.8 170.6 374.1 171.8 382.6 170.6 389.4 169.6 392.5 170.2M324.0 123.1 316.3 134.4 324.0 137.8 328.2 142.9 336.7 140.4 343.5 136.1 345.2 129.3 350.3 126.8 360.5 124.2 367.3 123.4 372.4 123.7 374.1 127.6 380.9 125.9 392.5 125.3M346.9 134.4 351.2 138.7 352.9 143.8 360.5 146.3 376.7 148.0 367.3 150.6 358.0 152.3 357.1 154.8 363.9 158.2 371.6 159.9 375.8 163.3 386.0 164.5 392.5 163.7M317.2 185.9 329.9 182.9 342.7 177.8 347.8 179.5 341.8 183.7 352.9 183.7 351.2 188.0 345.2 191.3 337.6 197.3 342.7 190.5 337.6 188.0 331.6 189.6 334.2 192.2 331.6 196.4 326.2 196.4 328.2 191.3 336.7 186.3 317.2 185.9M356.3 229.6 363.9 227.9 367.3 223.6 364.8 219.4 370.7 218.5 374.1 222.8 379.2 221.1 384.3 216.8 391.1 214.3 392.5 215.3M392.5 217.4 388.5 218.5 383.4 221.9 379.2 226.2 371.6 228.7 369.9 231.3 363.9 232.1 356.3 229.6M247.5 236.7 250.1 236.4 251.8 240.6 257.7 247.4 261.1 245.7 267.9 241.5 271.3 244.9 273.4 249.0M392.5 161.9 398.5 159.9 408.7 156.2 417.2 160.8 424.0 161.6 429.9 158.2 429.1 154.8 434.5 150.9 425.7 148.0 415.5 143.8 413.8 137.0 411.2 129.3 415.5 123.4M394.2 166.7 400.2 164.5 408.7 162.5 418.9 166.7 429.1 171.8 437.6 173.5 443.5 171.8 444.4 166.7 446.9 164.5 440.1 160.8 447.8 154.0 458.0 160.8 453.7 165.9 452.9 171.0 457.6 174.0 460.5 169.3 464.7 165.5 465.6 158.2 466.4 156.5 458.8 153.1 453.7 148.0 458.0 140.4 461.3 136.1 460.5 123.4M392.5 166.9 395.9 168.4 399.3 170.1 397.6 173.5 392.5 171.2M423.1 126.5 430.8 124.2 435.0 126.5 429.9 127.1 426.5 129.3 434.2 133.6 442.7 140.0 454.6 136.1 455.4 129.3 449.5 124.2 446.1 123.4M476.6 123.4 473.2 128.5 467.3 130.2 468.1 132.7 465.6 135.3 471.5 142.1 478.3 147.2 479.7 150.9 473.6 154.3 480.0 156.5 486.8 163.3 491.6 158.2 493.6 164.2 494.5 171.0 498.7 176.1 503.0 174.4 507.2 168.4 506.9 154.0 515.7 153.1 521.7 156.5 525.9 159.9 525.9 165.0 521.7 167.6 522.5 171.8 527.3 174.4 525.9 178.6 520.8 182.9 514.9 185.1 508.9 184.2 500.4 182.5 507.2 185.4 503.5 190.0 498.7 198.1 491.9 203.2 484.3 204.9 482.6 211.7 480.0 214.3 474.1 216.8 469.0 222.8 464.7 232.1 463.0 242.3 463.0 249.0M491.1 123.4 486.0 130.2 485.1 137.0 490.2 140.4 493.6 145.5 503.0 149.7 512.3 151.4 524.2 152.3 534.4 156.5 537.5 155.0M503.0 125.1 502.1 134.4 507.2 137.0 506.4 130.2 507.2 125.1M498.7 207.5 503.8 205.8 503.0 194.7 508.1 187.1 510.6 188.0 511.5 191.3 522.5 199.0 531.8 205.8 528.4 209.2 521.7 204.9 516.6 204.6 510.6 210.9 506.4 211.4 498.7 207.5M515.7 220.2 520.0 216.0 525.1 215.5 521.7 218.5 515.7 220.2M532.4 219.4 536.1 219.4 534.4 226.2 532.4 222.8 532.4 219.4M527.6 123.4 531.0 126.8 537.5 127.3M529.3 133.3 527.6 131.9 532.7 129.3 537.5 129.8M537.5 126.5 545.2 125.9 550.3 123.4 551.1 122.5M537.5 128.8 541.8 128.2 549.4 127.6M551.1 127.6 560.5 129.3 562.2 136.1 569.0 137.0 579.2 142.9 589.4 148.9 592.8 152.3 591.1 156.5 596.2 159.1 591.1 161.6 590.2 165.5 596.2 169.3 604.6 169.6 611.4 174.4 622.5 181.2 618.2 189.6 613.1 192.2 609.7 196.4 604.6 193.0 602.1 188.0 594.5 183.7 593.6 188.8 598.7 193.9 604.3 199.8 604.6 204.9 608.4 208.3 607.7 214.3 601.3 213.4 586.8 206.6 591.1 211.7 598.7 218.5 599.6 221.9 594.5 222.8 586.0 218.5 577.5 214.3 571.5 210.9 570.7 205.8 562.2 202.4 555.4 200.7 549.4 201.5 541.8 201.5 539.2 198.1 546.0 191.3 552.0 193.0 558.8 192.2 563.0 189.6 560.5 185.4 565.6 179.5 569.8 175.2 567.3 169.3 560.5 165.0 556.2 161.6 552.0 163.3 552.8 159.9 550.3 156.5 542.6 150.6 537.5 153.4M546.9 171.0 550.3 167.6 555.4 167.6 557.1 172.7 554.5 176.1 549.4 176.9 546.9 173.5 546.9 171.0M542.6 221.9 543.5 218.5 548.6 217.7 557.1 218.5 565.6 219.4 574.1 226.2 574.9 229.6 582.6 231.3 584.3 242.3 585.2 249.0M539.2 247.4 544.3 244.0 545.2 237.2 542.6 230.4 545.2 225.3 542.6 221.9M601.3 249.0 603.0 245.7 602.1 241.5 606.3 236.4 610.6 243.2 613.3 249.0M650.5 123.4 648.0 128.5 650.5 131.9 649.7 137.8 652.2 140.0 657.3 140.4 660.7 137.0 664.1 142.1 670.1 144.6 670.6 148.0 665.8 145.5 657.3 145.5 653.9 150.6 653.9 155.7 660.7 158.2 667.5 156.5 670.9 153.1 673.4 158.2 671.7 164.2 664.1 165.0 659.9 169.3 658.2 177.8 659.9 187.1 665.8 191.3 668.4 201.5 670.9 208.3 676.0 216.8 679.4 223.6 682.5 227.1M682.5 227.4 686.8 231.3 697.0 233.8 700.4 238.1 705.5 241.0 710.2 238.1 711.4 228.7 714.8 221.9 712.3 216.0 719.1 211.7 722.1 203.2 720.8 195.6 719.4 194.2 724.5 194.7 725.9 191.3 739.5 189.6 748.0 185.4 753.9 180.3 757.3 174.4 761.5 170.1 765.8 168.4 775.1 166.7 785.3 164.2 793.8 161.6 799.8 158.2M799.8 140.0 793.8 142.1 793.5 146.3 789.6 148.0 790.4 150.6 797.2 148.0 799.8 149.2M273.9 249.0 279.0 254.8 284.9 264.1 294.3 274.3 293.4 283.7 290.9 292.2 296.0 299.0 301.9 306.6 305.3 317.6 313.0 321.0 319.7 327.8 324.8 332.9 326.5 328.7 327.4 335.5 330.8 340.6 331.6 346.5 328.2 348.2 329.1 343.1 326.5 339.7 322.3 341.4 319.7 339.7 320.6 344.8 322.3 351.6 323.1 358.4 323.1 377.0M255.5 249.0 260.3 253.1 265.4 259.9 270.5 268.4 271.3 263.3 268.8 256.5 270.5 252.2 274.7 258.2 277.3 264.1 274.7 266.7 276.4 273.5 279.8 279.4 284.4 284.5 284.1 278.6 281.5 273.5 285.8 276.9 290.9 284.5M279.8 290.5 286.6 291.3 284.9 299.0 289.5 309.2 285.8 306.6 281.5 297.3 279.8 290.5M302.8 320.2 306.2 319.3 313.0 323.6 319.7 330.4 325.7 337.2 324.8 340.6 319.7 338.0 314.6 334.6 311.3 329.5 305.3 325.3 302.8 320.2M327.4 335.5 392.5 335.5M323.1 358.4 326.5 360.1 330.8 365.2 340.1 362.7 350.3 361.0 357.1 361.8M356.8 335.5 356.8 361.0 358.5 365.2 357.1 372.0 356.3 377.0M360.5 335.5 361.4 343.1 367.3 353.3 370.7 356.7 369.9 363.5 374.1 370.3 375.8 374.6 384.3 373.7 384.6 377.0M384.3 370.3 392.5 370.3M383.4 251.4 387.4 249.0M465.2 249.0 466.4 250.5 471.5 252.2 474.9 265.0 480.0 263.3 485.1 265.8 491.9 269.2 498.7 274.3 508.9 279.4 520.8 281.1 522.5 285.4 521.7 292.2 524.2 302.4 534.4 317.6 537.5 312.1M537.5 285.6 536.1 286.2 537.5 297.3 537.5 297.5M523.4 300.7 527.6 299.0 529.3 303.2 525.9 304.1 523.4 300.7M532.7 275.2 537.5 270.4M537.5 274.6 535.2 273.5 532.7 275.2M422.3 270.9 424.8 263.3 428.2 255.6 430.4 259.0 428.2 264.1 426.5 269.2 422.3 270.9M441.8 295.6 446.9 294.2 449.5 299.0 452.0 311.7 455.4 316.0 454.6 322.7 451.5 323.1 451.2 312.6 446.9 309.2 442.7 300.7 441.8 295.6M432.5 299.8 436.7 299.0 439.3 304.1 440.1 311.7 444.4 317.6 447.4 323.6 444.4 325.3 441.8 316.8 437.6 311.7 435.9 304.1 432.5 299.8M392.5 335.5 460.5 335.5 461.3 332.6 462.7 332.9 463.0 337.2 470.0 339.3M451.5 335.5 453.7 346.5 454.6 362.7 453.7 366.9 454.8 377.0M418.9 362.7 454.6 362.7M418.5 335.5 418.5 377.0M392.5 370.0 418.5 370.0M541.6 249.0 545.2 253.1 548.3 265.0 546.9 275.2 540.1 282.0 537.5 284.2M537.5 297.1 537.5 297.3 540.1 307.5 537.5 310.4M537.5 269.3 537.5 269.2 537.5 269.8M586.0 249.0 591.9 255.1 599.6 249.0M613.7 249.0 619.9 260.7 622.5 264.1 620.8 271.8 626.7 278.6 638.6 285.4 636.9 289.6 643.7 293.9 647.6 300.0M322.6 377.0 320.6 386.2 321.4 395.5 322.3 401.5 321.4 410.0 324.0 416.8 324.8 423.6 328.2 430.4 330.8 429.5 329.9 434.6 332.5 444.0 336.7 450.7 340.1 460.9 346.9 464.3 353.7 470.3 357.1 477.9 358.8 484.7 362.2 494.9 363.9 503.4 364.4 505.0M322.3 396.4 384.3 396.4M356.3 377.0 356.8 396.4M384.3 377.0 384.6 404.9 392.5 405.1M342.3 396.4 342.7 422.7 367.3 456.7M370.7 396.4 370.7 440.6M370.7 440.6 369.9 447.3 367.3 449.0 367.3 456.7 369.9 462.6 368.2 471.1 367.7 477.6M370.7 440.6 392.5 440.6M356.3 478.8 367.7 477.6M367.7 477.6 384.3 489.0 392.5 489.0M366.5 486.4 368.2 494.9 370.4 505.0M366.5 486.4 374.1 489.8 376.7 498.3 378.6 505.0M418.5 377.0 418.5 387.6 444.4 387.6 447.8 388.7 453.7 389.6 455.4 394.7 458.0 404.9 458.8 408.3 461.3 413.4 463.9 420.2 463.9 440.2 464.4 468.6M418.5 387.6 418.5 404.9M392.5 405.7 427.4 405.7M394.8 405.7 394.8 489.0M427.4 405.7 427.4 413.4 461.3 413.4M427.7 413.4 427.7 440.2M392.5 440.2 463.9 440.2M423.1 440.6 423.1 483.0M424.0 444.8 437.6 444.8 437.6 460.1 441.0 462.6 447.8 466.0 454.6 467.7 461.3 466.9 465.6 469.1M423.1 483.0 407.5 483.4 407.0 485.6 399.0 486.1 399.0 489.0 394.8 489.0 392.5 489.0M467.3 474.5 468.1 494.9 467.6 505.0M464.4 468.6 467.3 469.1 467.3 474.5 479.2 474.2M487.7 444.0 485.1 449.0 484.3 455.8 481.7 464.3 479.2 474.5 480.0 481.3 477.5 491.5 486.8 493.2 487.7 498.3M454.6 377.0 454.6 383.6 470.0 383.6M470.0 408.3 458.8 408.3M483.6 424.0 484.3 425.3 487.7 435.5 490.2 438.0 487.7 444.0M497.1 424.0 497.0 427.0 494.5 433.8M490.2 438.0 494.5 433.8 498.7 430.4 502.1 431.2 507.2 425.3 508.8 424.0M515.3 424.0 519.1 426.1 521.2 424.0M487.7 444.0 537.5 443.1M484.3 456.7 515.7 457.2M524.2 437.2 531.0 433.8 536.1 425.3 537.5 424.2M524.0 424.0 525.9 430.4 524.2 437.2 519.1 443.1M493.6 457.5 492.8 494.9M507.2 457.5 509.8 477.9 508.9 493.2M517.4 456.7 525.9 471.1 529.3 481.3M508.9 493.2 524.2 494.9 525.9 493.2M493.6 494.9 507.2 494.1M515.7 456.7 522.5 449.0 531.0 444.0 537.5 443.3M537.5 467.8 536.1 471.1 529.3 483.0 526.7 494.9 527.3 505.0M464.2 444.3 484.3 444.3 485.1 449.0M558.2 424.0 556.2 432.1 553.7 438.9 552.8 444.0 555.4 452.4 550.3 459.2 541.8 466.0 539.2 468.6 537.5 470.6M550.7 424.0 551.1 425.3 552.0 435.5 553.7 427.0 554.8 424.0M547.1 424.0 548.6 427.0 549.4 433.8 546.9 438.9M537.5 443.1 552.8 443.1M449.9 536.8 448.6 550.4 447.9 565.7 448.2 568.0M378.2 505.0 380.3 511.3 385.4 519.8 392.2 531.7 393.0 538.5 397.3 543.6 404.1 555.5 409.2 565.7 409.7 568.0M365.3 505.0 370.1 513.0 369.2 519.8 375.2 528.3 380.3 541.9 382.0 548.7 388.8 558.9 390.5 563.2 392.2 558.9 391.3 553.8 387.1 548.7 383.7 535.1 378.6 519.8 373.5 508.0 372.4 505.0M517.2 505.0 518.6 507.8 521.1 516.3 522.0 524.7 525.4 534.9 528.8 542.6 531.3 542.6 532.2 534.9 531.3 523.0 528.8 509.5 528.0 505.0M537.3 529.0 541.5 530.7 544.9 528.1 547.5 533.2 546.6 536.6M548.3 540.0 551.7 543.4 554.3 547.7 556.0 551.1M540.7 547.7 542.7 543.4 544.9 551.9 545.4 556.2 543.2 551.9 540.7 547.7M556.0 558.7 557.7 562.1 561.9 565.5 562.8 568.9 560.2 569.8M569.6 572.3 573.8 573.2M569.6 572.3 567.8 575.0M510.1 572.3 513.5 567.2 518.6 563.0 525.4 560.4 532.2 563.0 539.0 567.2 545.8 572.3 549.0 575.0M511.8 571.5 515.2 568.9 521.1 565.5 525.4 567.2 523.7 569.8 530.5 570.6 537.3 574.9 537.4 575.0M523.7 548.5 527.1 547.2M518.6 571.5 521.1 573.2 520.5 575.0M519.6 575.0 518.6 574.0 518.6 571.5M149.2 572.2 152.1 569.3 154.6 568.5 152.6 571.7 149.2 572.2M159.1 574.2 160.8 576.2 159.6 576.7M164.1 578.7 168.3 579.2 170.8 582.2 168.3 583.7 166.5 580.4 164.1 578.7M170.3 585.4 174.0 587.9 175.7 592.8 172.0 597.8 169.5 594.1 170.3 585.4M410.7 568.0 412.2 572.5 412.5 581.0 410.5 585.2 414.7 594.6 421.5 603.0 429.2 606.4 434.3 613.2 442.8 618.3 449.6 623.4 455.5 625.1 461.4 621.7 468.2 623.4 471.6 630.2 475.0 637.0 480.1 641.8M448.3 568.0 449.6 574.2 453.0 584.4 456.3 594.6 459.7 599.6 464.0 604.4 469.9 601.3 475.0 598.8 478.4 600.5 481.8 595.4 483.5 587.8 484.4 579.3 488.6 576.7 495.4 574.5 500.5 575.5 500.9 581.0 498.8 589.5 497.1 598.0 496.3 604.7 494.6 606.4 493.7 601.3 492.0 603.9 490.3 607.3 481.0 607.8 481.0 611.5 478.4 612.4 481.8 616.6 483.5 622.6 477.6 623.1 475.0 628.5 475.0 633.6 477.6 638.7 480.1 641.8M496.3 604.7 493.7 618.3 491.2 622.6M493.7 601.3 492.9 607.3 490.3 621.7 490.3 622.6 493.7 625.1 500.5 624.3 505.6 623.4 510.7 623.4 515.8 628.5 518.4 631.6 517.2 638.7 516.7 641.8M490.3 622.6 488.6 631.9 491.2 638.7 495.4 641.8M503.9 641.8 507.3 637.0 510.7 633.6 518.4 631.6M519.9 575.0 519.2 575.5 519.1 575.0M545.8 575.0 547.1 575.9 552.2 579.3 557.3 582.7 560.7 586.1 556.4 588.6 545.4 589.5 547.9 584.4 542.0 581.0 540.3 575.0 540.3 575.0M559.8 603.0 562.4 600.5 567.5 601.3M567.5 601.3 570.0 597.1 566.6 592.9 565.8 589.5 571.7 588.6 574.3 589.5 581.1 591.2 586.2 596.3 588.7 603.9 582.8 600.5 576.0 603.0 574.3 609.0 572.6 602.2 567.5 601.3M567.5 601.3 562.4 604.7 559.8 603.0M541.1 603.9 543.7 601.7 548.8 602.2 551.8 605.6 547.9 607.8 542.8 606.8 541.1 603.9M594.6 602.2 599.7 601.0 602.3 603.0 600.6 606.1 595.5 606.1 594.6 602.2M567.5 575.0 565.8 577.6 564.1 580.6M620.1 622.6 621.8 619.2 622.7 620.9 621.0 623.4 620.1 622.6M623.2 632.8 624.4 636.2M470.0 337.7 474.1 341.1 478.2 342.4 483.6 343.4 487.0 344.7 490.4 339.3 494.5 335.2 497.9 336.6 502.6 337.4 504.0 341.7 506.0 343.8 509.4 345.1 510.1 349.2 510.8 354.0 511.4 357.4 514.2 360.8M487.0 344.7 482.9 348.8 478.2 352.6 475.4 355.1 482.9 353.7 484.7 356.4 487.7 354.2 490.4 352.1 493.8 349.2 496.5 349.9 492.8 352.1 493.8 355.1 497.2 356.0 502.6 354.0 509.4 354.9 511.4 357.4M475.4 355.1 473.8 358.7 472.0 363.5 472.4 369.6 476.1 376.4 479.2 381.2 480.9 386.6 480.3 390.9 483.6 394.1 484.3 398.8 480.6 402.9 480.2 408.3 478.4 410.0 479.5 416.5 483.6 424.0M484.7 356.4 491.7 360.8 495.8 364.8 496.6 371.6 495.3 373.3M495.3 373.3 496.5 377.1 497.2 383.9 496.6 392.0 497.5 399.1 499.6 399.6 502.1 398.3M502.1 398.3 503.3 390.7 502.6 382.5 503.4 374.4 506.1 368.9 510.8 365.1 515.5 364.2 517.6 362.4M496.6 371.6 499.2 365.8 504.0 363.5 510.8 362.1 514.2 360.8M514.2 360.8 517.6 360.1 525.0 360.1 529.8 362.8 532.8 367.3 534.7 371.4 532.8 374.6 529.8 373.7 527.3 368.7 525.7 364.8M517.6 362.4 521.0 363.2 524.4 366.9 522.7 371.6 523.3 379.8 524.4 383.9 523.7 385.2 522.3 390.7 519.6 396.1 518.9 398.6M517.8 372.3 517.3 377.8 514.8 380.5 515.9 382.2 517.8 379.8M518.9 398.6 524.4 394.5 529.8 390.9 535.2 388.8 538.0 389.3 536.9 392.0 531.4 394.2 526.0 397.7 521.9 400.5 518.9 398.6M535.2 383.9 536.6 380.6 542.0 379.3 547.5 377.9 551.5 378.4 551.0 381.8 546.1 383.3 540.7 384.7 535.2 383.9M538.0 389.3 535.5 383.9M551.5 378.4 553.6 374.4 555.9 370.8 565.1 370.3 574.4 370.0M574.4 370.0 575.7 366.9 578.7 364.6 579.5 359.4 580.8 354.0 582.8 349.2 590.0 348.6M576.0 354.2 580.1 347.2 584.8 340.4 590.0 333.7M578.0 353.3 582.8 345.8 590.0 337.2M483.6 391.6 496.6 391.6M497.9 399.5 497.9 424.0M510.8 399.5 510.8 424.0M497.9 399.5 510.8 399.2 519.2 398.6M530.5 396.1 530.5 415.4M530.5 396.8 555.6 396.4 558.1 400.2 559.0 404.9 559.7 408.3M530.5 415.4 557.0 415.9M565.1 370.6 564.9 379.8 565.4 388.0 565.9 396.1 565.1 401.5 563.8 407.0M574.4 370.0 571.9 378.4 569.9 388.0 568.1 390.0M565.4 389.6 568.1 390.0 577.4 389.0 579.4 392.0 578.7 395.4 580.8 398.8 578.7 399.9 576.0 397.5 575.3 396.1 565.8 396.1M565.1 401.9 574.6 401.3 576.0 397.5M560.8 408.3 565.1 405.9 571.2 404.0 572.2 405.3 567.2 407.2 562.4 409.0 560.8 408.3M578.7 364.6 577.6 377.1 578.7 386.6 577.4 389.0M559.7 408.3 557.2 413.8 560.0 418.1 558.3 424.0M524.4 424.0 527.1 419.2 530.5 415.4M536.6 415.9 540.7 418.1 544.1 424.0M548.8 424.0 551.5 418.1 554.3 419.5 555.9 424.0M470.0 382.9 479.5 382.9M470.0 409.0 479.2 409.0M590.0 375.0 585.8 378.2 580.4 381.6 578.3 387.0 577.4 389.0M509.8 424.0 511.4 421.9 514.8 424.0M648.3 300.0 649.4 305.4 649.0 309.5 647.0 312.2M647.0 312.2 641.5 313.6 636.1 316.3 632.0 321.7 628.0 324.5 621.2 325.1 614.4 324.2 607.6 323.8 599.4 324.7 595.3 327.2 593.3 331.9 590.0 333.0M590.0 337.6 594.0 334.7 600.8 332.9 605.5 333.7 608.2 336.7 607.8 340.1 603.5 342.8 598.7 343.8 600.8 346.2 604.2 347.6 605.5 353.7 606.9 357.1 609.6 360.5 614.4 363.2 619.8 363.2 622.5 359.8 623.9 355.0 625.9 352.3 626.6 357.1 629.3 361.2 626.6 364.6 623.2 369.3 617.1 372.0 610.3 374.7 606.2 379.5 603.2 382.9 600.8 380.9 600.1 374.7 602.1 370.7 606.2 367.3 608.2 366.3 606.2 365.2 602.1 368.0 596.7 368.6 594.7 370.7 590.6 374.7 590.0 375.2M608.7 353.0 611.0 357.8 615.0 360.5 618.4 359.8 619.8 357.8 615.0 358.2 612.3 356.4 609.6 353.0M607.3 328.8 611.0 327.9 617.1 329.2 620.5 332.6 617.1 334.0 613.0 332.6 609.6 330.6 607.3 328.8M647.0 312.2 650.8 312.9 649.7 320.4 645.6 325.8 644.3 327.9 648.3 327.2 650.4 329.2 653.8 331.9 658.5 331.9 659.2 337.4 662.2 339.4 660.6 343.5 663.3 344.8 663.6 350.3 661.2 355.0 659.9 352.3 658.1 354.4 656.5 352.3 655.1 348.9 653.1 352.3 650.4 353.7 649.7 348.2 647.0 346.9 640.2 347.6 634.1 348.2 631.3 344.8 635.4 339.4 638.1 332.6 641.5 321.7 644.9 314.9 647.0 312.2M590.0 350.8 591.9 353.7 592.6 363.9 594.7 370.7M383.0 251.0 391.0 243.0 402.0 246.0 393.0 249.0 388.0 251.5 383.0 251.0M406.6 485.0 412.6 492.7 416.0 502.0 421.9 508.8 425.3 503.7 430.4 502.9 434.6 508.0 438.0 516.4 441.4 526.6 444.8 532.6 450.8 536.8M450.8 536.8 449.1 528.3 451.6 518.1 460.1 509.6 462.7 504.6 470.3 502.0 477.1 503.7 480.5 508.8 485.6 507.1 489.0 508.8 487.3 502.9 484.8 499.5 488.2 496.9 494.1 496.1 495.8 498.6 500.9 496.1 509.4 502.9 516.2 499.1M507.2 498.7 510.6 502.6 515.7 501.7 517.7 506.8"/>
</g>
</g>
<g stroke="#000" stroke-width="1" fill="none" shape-rendering="crispEdges">
<rect x="104.5" y="122.4" width="695.0" height="520.1"/>
<path d="M150.5 642.5V653.5M150.5 122.4V111.4"/>
<path d="M246.5 642.5V653.5M246.5 122.4V111.4"/>
<path d="M342.5 642.5V653.5M342.5 122.4V111.4"/>
<path d="M437.5 642.5V653.5M437.5 122.4V111.4"/>
<path d="M533.5 642.5V653.5M533.5 122.4V111.4"/>
<path d="M628.5 642.5V653.5M628.5 122.4V111.4"/>
<path d="M724.5 642.5V653.5M724.5 122.4V111.4"/>
<path d="M104.5 631.5H93.5M799.5 631.5H810.5"/>
<path d="M104.5 588.5H93.5M799.5 588.5H810.5"/>
<path d="M104.5 544.5H93.5M799.5 544.5H810.5"/>
<path d="M104.5 501.5H93.5M799.5 501.5H810.5"/>
<path d="M104.5 457.5H93.5M799.5 457.5H810.5"/>
<path d="M104.5 413.5H93.5M799.5 413.5H810.5"/>
<path d="M104.5 370.5H93.5M799.5 370.5H810.5"/>
<path d="M104.5 326.5H93.5M799.5 326.5H810.5"/>
<path d="M104.5 283.5H93.5M799.5 283.5H810.5"/>
<path d="M104.5 239.5H93.5M799.5 239.5H810.5"/>
<path d="M104.5 196.5H93.5M799.5 196.5H810.5"/>
<path d="M104.5 152.5H93.5M799.5 152.5H810.5"/>
</g>
<g stroke="#000" stroke-width="1" shape-rendering="crispEdges">
<rect x="820.5" y="612.5" width="23.0" height="30.0" fill="#cc00ff"/>
<rect x="820.5" y="581.5" width="23.0" height="31.0" fill="#7820ff"/>
<rect x="820.5" y="551.5" width="23.0" height="30.0" fill="#4440e8"/>
<rect x="820.5" y="520.5" width="23.0" height="31.0" fill="#3058b8"/>
<rect x="820.5" y="489.5" width="23.0" height="31.0" fill="#1c7088"/>
<rect x="820.5" y="459.5" width="23.0" height="30.0" fill="#009058"/>
<rect x="820.5" y="428.5" width="23.0" height="31.0" fill="#20a440"/>
<rect x="820.5" y="398.5" width="23.0" height="30.0" fill="#50b838"/>
<rect x="820.5" y="367.5" width="23.0" height="31.0" fill="#80cc28"/>
<rect x="820.5" y="337.5" width="23.0" height="30.0" fill="#b2e01c"/>
<rect x="820.5" y="306.5" width="23.0" height="31.0" fill="#e6f510"/>
<rect x="820.5" y="275.5" width="23.0" height="31.0" fill="#ffe000"/>
<rect x="820.5" y="245.5" width="23.0" height="30.0" fill="#ffa000"/>
<rect x="820.5" y="214.5" width="23.0" height="31.0" fill="#ff6000"/>
<rect x="820.5" y="184.5" width="23.0" height="30.0" fill="#ff1e00"/>
<rect x="820.5" y="153.5" width="23.0" height="31.0" fill="#d60000"/>
<rect x="820.5" y="122.5" width="23.0" height="31.0" fill="#990000"/>
</g>
<g opacity="0.999">
<g font-size="16.3" stroke="#fff" stroke-width="0.2" paint-order="fill stroke">
<text x="849.8" y="648.2" textLength="36.3" lengthAdjust="spacingAndGlyphs">4920</text>
<text x="849.8" y="617.6" textLength="36.3" lengthAdjust="spacingAndGlyphs">4980</text>
<text x="849.8" y="587.0" textLength="36.3" lengthAdjust="spacingAndGlyphs">5040</text>
<text x="849.8" y="556.4" textLength="36.3" lengthAdjust="spacingAndGlyphs">5100</text>
<text x="849.8" y="525.8" textLength="36.3" lengthAdjust="spacingAndGlyphs">5160</text>
<text x="849.8" y="495.3" textLength="36.3" lengthAdjust="spacingAndGlyphs">5220</text>
<text x="849.8" y="464.7" textLength="36.3" lengthAdjust="spacingAndGlyphs">5280</text>
<text x="849.8" y="434.1" textLength="36.3" lengthAdjust="spacingAndGlyphs">5340</text>
<text x="849.8" y="403.5" textLength="36.3" lengthAdjust="spacingAndGlyphs">5400</text>
<text x="849.8" y="372.9" textLength="36.3" lengthAdjust="spacingAndGlyphs">5460</text>
<text x="849.8" y="342.3" textLength="36.3" lengthAdjust="spacingAndGlyphs">5520</text>
<text x="849.8" y="311.7" textLength="36.3" lengthAdjust="spacingAndGlyphs">5580</text>
<text x="849.8" y="281.1" textLength="36.3" lengthAdjust="spacingAndGlyphs">5640</text>
<text x="849.8" y="250.6" textLength="36.3" lengthAdjust="spacingAndGlyphs">5700</text>
<text x="849.8" y="220.0" textLength="36.3" lengthAdjust="spacingAndGlyphs">5760</text>
<text x="849.8" y="189.4" textLength="36.3" lengthAdjust="spacingAndGlyphs">5820</text>
<text x="849.8" y="158.8" textLength="36.3" lengthAdjust="spacingAndGlyphs">5880</text>
<text x="849.8" y="128.2" textLength="36.3" lengthAdjust="spacingAndGlyphs">5940</text>
</g>
<g font-size="14.7" stroke="#fff" stroke-width="0.2" paint-order="fill stroke">
<text x="132.5" y="671.2" textLength="39.4" lengthAdjust="spacingAndGlyphs">160°W</text>
<text x="323.7" y="671.2" textLength="39.4" lengthAdjust="spacingAndGlyphs">120°W</text>
<text x="518.8" y="671.2" textLength="31.6" lengthAdjust="spacingAndGlyphs">80°W</text>
<text x="710.0" y="671.2" textLength="31.6" lengthAdjust="spacingAndGlyphs">40°W</text>
<text x="56.9" y="636.6" textLength="30.0" lengthAdjust="spacingAndGlyphs">15°N</text>
<text x="56.9" y="549.5" textLength="30.0" lengthAdjust="spacingAndGlyphs">25°N</text>
<text x="56.9" y="462.4" textLength="30.0" lengthAdjust="spacingAndGlyphs">35°N</text>
<text x="56.9" y="375.3" textLength="30.0" lengthAdjust="spacingAndGlyphs">45°N</text>
<text x="56.9" y="288.2" textLength="30.0" lengthAdjust="spacingAndGlyphs">55°N</text>
<text x="56.9" y="201.2" textLength="30.0" lengthAdjust="spacingAndGlyphs">65°N</text>
</g>
<g font-size="16.4" stroke="#fff" stroke-width="0.2" paint-order="fill stroke">
<text x="105.6" y="69.7" textLength="50.8" lengthAdjust="spacingAndGlyphs">HEIGHT</text>
<text x="167.6" y="69.7" textLength="68.8" lengthAdjust="spacingAndGlyphs">(millibar)</text>
<text x="246.4" y="69.7" textLength="2.6" lengthAdjust="spacingAndGlyphs">:</text>
<text x="257.8" y="69.7" textLength="28.4" lengthAdjust="spacingAndGlyphs">500</text>
<text x="528.8" y="69.7" textLength="34.4" lengthAdjust="spacingAndGlyphs">DATA</text>
<text x="573.3" y="69.7" textLength="31.7" lengthAdjust="spacingAndGlyphs">SET:</text>
<text x="613.2" y="69.7" textLength="187.4" lengthAdjust="spacingAndGlyphs">exp0.1.uqam.z500.7911</text>
<text x="417.8" y="692.4" textLength="68.0" lengthAdjust="spacingAndGlyphs">longitude</text>
<text transform="translate(45.9 411.0) rotate(-90)" textLength="57.4" lengthAdjust="spacingAndGlyphs">latitude</text>
</g>
<g font-size="8.5">
<text x="765.9" y="17.8" textLength="26.9" lengthAdjust="spacingAndGlyphs">FERRET</text>
<text x="796.4" y="17.8" textLength="15.0" lengthAdjust="spacingAndGlyphs">Ver.</text>
<text x="815.8" y="17.8" textLength="17.4" lengthAdjust="spacingAndGlyphs">5.70</text>
<text x="764.9" y="26.8" textLength="43.0" lengthAdjust="spacingAndGlyphs">NOAA/PMEL</text>
<text x="814.6" y="26.8" textLength="18.6" lengthAdjust="spacingAndGlyphs">TMAP</text>
<text x="753.9" y="35.8" textLength="14.1" lengthAdjust="spacingAndGlyphs">Nov</text>
<text x="772.5" y="35.8" textLength="8.8" lengthAdjust="spacingAndGlyphs">24</text>
<text x="786.3" y="35.8" textLength="19.8" lengthAdjust="spacingAndGlyphs">2004</text>
<text x="810.5" y="35.8" textLength="33.7" lengthAdjust="spacingAndGlyphs">13:40:55</text>
</g>
<text class="ser" x="128.5" y="713.3" font-size="12.3" textLength="647" lengthAdjust="spacingAndGlyphs">0.5*(HGT[D=nrcp13_gz500_12z,L=305:334@AVE]+HGT[D=nrcp13_gz500_00z,L=305:334@AVE])</text>
</g>
</svg></body></html>
